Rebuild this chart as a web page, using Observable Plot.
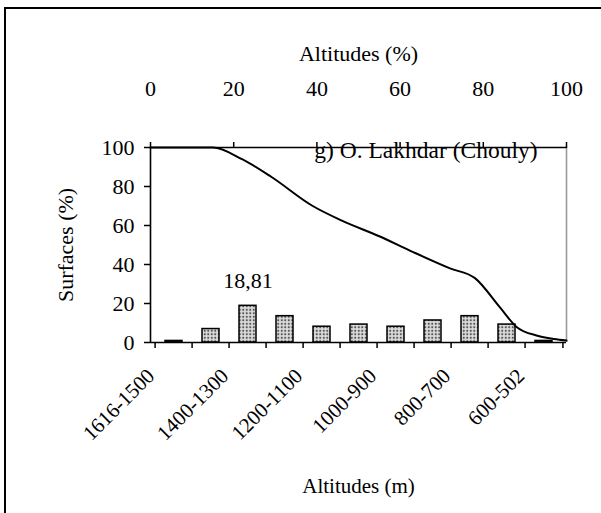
<!DOCTYPE html>
<html><head><meta charset="utf-8">
<script src="https://cdn.jsdelivr.net/npm/d3@7"></script>
<script src="https://cdn.jsdelivr.net/npm/@observablehq/plot@0.6"></script>
<style>
html,body{margin:0;padding:0;background:#fff;overflow:hidden;}
#wrap{position:relative;width:601px;height:513px;overflow:hidden;}
#frame{position:absolute;left:4px;top:7px;width:640px;height:560px;border:2px solid #000;box-sizing:border-box;}
#wrap svg{position:absolute;left:0;top:0;}
</style></head><body><div id="wrap"><div id="frame"></div></div>
<script>
const categories = ["1616-1500","1500-1400","1400-1300","1300-1200","1200-1100","1100-1000","1000-900","900-800","800-700","700-600","600-502"];
const surfaces = [0.8,6.9,18.81,13.5,8.1,9.2,8.1,11.3,13.5,9.2,0.8];
const labeledCategories = ["1616-1500","1400-1300","1200-1100","1000-900","800-700","600-502"];
const curveAltPct = [0,15,22,29,39,46,55,63,72,78,84,88,93,97,100];
const curveSurfPct = [100,100,94,85,70,62.5,54.5,46.5,38,33,18,8,3.5,1.8,1];
const yTicks = [0,20,40,60,80,100];
const topTicks = [0,20,40,60,80,100];
const title = "g) O. Lakhdar (Chouly)";
const annotated = "18,81";

const bars = categories.map((c, i) => ({cat: c, value: surfaces[i]}));
const curve = curveAltPct.map((x, i) => ({x, y: curveSurfPct[i]}));

const W = 601, H = 513;
const M = {marginLeft: 150, marginRight: 35, marginTop: 147, marginBottom: 171};
const style = {fontFamily: "'Liberation Serif', 'Times New Roman', serif", fontSize: "22px", background: "transparent", overflow: "visible", color: "#000"};
const step = (W - M.marginLeft - M.marginRight) / categories.length;

const plotA = Plot.plot({
  width: W, height: H, ...M, style,
  x: {type: "band", domain: categories, paddingInner: 0.55, paddingOuter: 0.275},
  y: {domain: [0, 100]},
  marks: [
    Plot.barY(bars, {x: "cat", y: "value", fill: "url(#dots)", stroke: "#000", strokeWidth: 1.5}),
    Plot.text(bars.filter(d => d.value === d3.max(surfaces)), {x: "cat", y: "value", text: () => annotated, dy: -25, lineAnchor: "middle", fill: "#000"}),
    Plot.axisY({ticks: yTicks, tickSize: 6, tickPadding: 10, strokeWidth: 1.5, label: "Surfaces (%)", labelAnchor: "center", labelOffset: 93, labelArrow: "none"}),
    Plot.axisX({ticks: categories, tickSize: 6, strokeWidth: 1.5, tickFormat: () => "", dx: -step / 2, label: null}),
    Plot.axisX({ticks: [categories[categories.length - 1]], tickSize: 6, strokeWidth: 1.5, tickFormat: () => "", dx: step / 2, label: null}),
    Plot.axisX({ticks: labeledCategories, tickSize: 0, tickPadding: 0, tickRotate: -45, fontSize: 21, dx: -23, dy: 30, label: "Altitudes (m)", labelAnchor: "center", labelOffset: 150, labelArrow: "none"})
  ]
});

const defs = d3.select(plotA).insert("defs", ":first-child");
const pat = defs.append("pattern").attr("id", "dots").attr("patternUnits", "userSpaceOnUse").attr("width", 3.5).attr("height", 3.5);
pat.append("rect").attr("width", 3.5).attr("height", 3.5).attr("fill", "#dcdcdc");
pat.append("circle").attr("cx", 1.75).attr("cy", 1.75).attr("r", 1.1).attr("fill", "#555");

const plotB = Plot.plot({
  width: W, height: H, ...M, style,
  x: {domain: [0, 100]},
  y: {domain: [0, 100], axis: null},
  marks: [
    Plot.ruleX([100], {stroke: "#999", strokeWidth: 1.6}),
    Plot.ruleX([0], {stroke: "#000", strokeWidth: 1.6}),
    Plot.ruleY([0], {stroke: "#000", strokeWidth: 1.6}),
    Plot.ruleY([100], {stroke: "#000", strokeWidth: 1.6}),
    Plot.line(curve, {x: "x", y: "y", curve: "monotone-x", stroke: "#000", strokeWidth: 2}),
    Plot.axisX({anchor: "top", ticks: topTicks, tickSize: 6, strokeWidth: 1.5, tickPadding: 46, label: "Altitudes (%)", labelAnchor: "center", labelOffset: 102, labelArrow: "none"}),
    Plot.text([title], {frameAnchor: "top-right", dx: -29, dy: 3, fontSize: 23.5, textAnchor: "end", lineAnchor: "middle", fill: "#000"})
  ]
});

document.getElementById("wrap").append(plotA, plotB);
</script></body></html>
